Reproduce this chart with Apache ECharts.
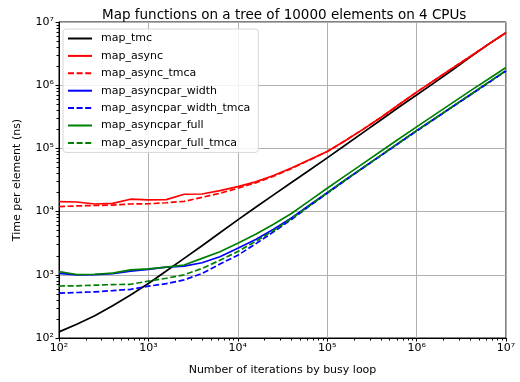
<!DOCTYPE html>
<html>
<head>
<meta charset="utf-8">
<script src="https://cdn.jsdelivr.net/npm/echarts@6.0.0/dist/echarts.min.js"></script>
<style>
  html, body { margin: 0; padding: 0; background: #fff; }
  #chart { width: 520px; height: 382px; }
</style>
</head>
<body>
<div id="chart"></div>
<script>
// busy loop iterations (x), 5 points per decade
const iterations = [100, 158, 251, 398, 631, 1000, 1585, 2512, 3981, 6310,
  10000, 15849, 25119, 39811, 63096, 100000, 158489, 251189, 398107, 630957,
  1000000, 1584893, 2511886, 3981072, 6309573, 10000000];

// time per element (ns)
const mapTmc = [125, 165, 225, 325, 480, 730, 1150, 1820, 2880, 4620,
  7400, 11700, 18400, 28800, 45200, 70800, 112000, 178000, 282000, 447000,
  700000, 1100000, 1740000, 2800000, 4400000, 6800000];
const mapAsync = [14400, 14200, 13200, 13500, 15700, 15300, 15500, 18800, 19000, 21500,
  24800, 29500, 37200, 49000, 66100, 89100, 132000, 200000, 309000, 490000,
  776000, 1200000, 1860000, 2850000, 4420000, 6760000];
const mapAsyncTmca = [12000, 12300, 12500, 12700, 13200, 13300, 13800, 14500, 16800, 19500,
  23400, 28500, 36300, 47900, 65300, 89100, 132000, 200000, 309000, 490000,
  776000, 1200000, 1860000, 2850000, 4420000, 6760000];
const mapAsyncparWidth = [1055, 1000, 1010, 1040, 1140, 1220, 1320, 1370, 1550, 1930,
  2630, 3630, 5250, 7940, 12600, 20000, 31600, 49500, 77600, 122000,
  191000, 295000, 457000, 708000, 1100000, 1700000];
const mapAsyncparWidthTmca = [513, 525, 537, 562, 589, 661, 724, 832, 1050, 1480,
  2040, 3090, 4790, 7500, 12200, 19500, 30900, 49000, 76700, 120000,
  188000, 292000, 452000, 700000, 1080000, 1680000];
const mapAsyncparFull = [1120, 1010, 1020, 1060, 1200, 1240, 1320, 1430, 1820, 2320,
  3160, 4370, 6310, 9330, 14800, 23400, 36700, 57500, 90200, 141000,
  219000, 339000, 525000, 813000, 1240000, 1900000];
const mapAsyncparFullTmca = [665, 670, 685, 700, 708, 794, 881, 1000, 1260, 1700,
  2340, 3390, 5010, 7760, 12300, 19700, 31300, 49500, 77600, 122000,
  191000, 295000, 457000, 708000, 1100000, 1700000];

const names = ['map_tmc', 'map_async', 'map_async_tmca', 'map_asyncpar_width',
  'map_asyncpar_width_tmca', 'map_asyncpar_full', 'map_asyncpar_full_tmca'];

// axis ticks
const decadeTicks = [100, 1000, 10000, 100000, 1000000, 10000000];
const superscripts = {2: '²', 3: '³', 4: '⁴', 5: '⁵', 6: '⁶', 7: '⁷'};
const minorTicks = [];
for (let d = 100; d < 10000000; d *= 10) {
  for (let m = 2; m <= 9; m++) minorTicks.push(d * m);
}

const font = 'DejaVu Sans';
const dash = [6, 2.6];

function line(name, values, color, dashed) {
  return {
    name: name,
    type: 'line',
    xAxisIndex: 0,
    yAxisIndex: 0,
    data: iterations.map((x, i) => [x, values[i]]),
    symbol: 'none',
    animation: false,
    lineStyle: { color: color, width: 1.7, type: dashed ? dash : 'solid' },
    itemStyle: { color: color }
  };
}

function tickLabel(v) {
  return '10' + superscripts[Math.round(Math.log10(v))];
}

function minorAxis() {
  return {
    type: 'log', logBase: 10, min: 100, max: 10000000, gridIndex: 1,
    axisLine: { show: false },
    axisTick: { show: true, inside: false, length: 2.5, customValues: minorTicks, lineStyle: { color: '#000', width: 1 } },
    axisLabel: { show: false },
    splitLine: { show: false }
  };
}

let myChart = echarts.init(document.getElementById('chart'));
const gridBox = { left: 59, right: 14, top: 22, bottom: 44 };
const option = {
  animation: false,
  textStyle: { fontFamily: font },
  title: {
    text: 'Map functions on a tree of 10000 elements on 4 CPUs',
    left: 97,
    top: 3,
    textStyle: { fontFamily: font, fontSize: 13.5, fontWeight: 'normal', color: '#000' }
  },
  legend: {
    orient: 'vertical',
    left: 63,
    top: 29,
    padding: [3, 8, 3, 4],
    itemWidth: 24,
    itemHeight: 12,
    itemGap: 4.4,
    itemStyle: { opacity: 0 },
    backgroundColor: 'rgba(255,255,255,0.85)',
    borderColor: '#d6d6d6',
    borderWidth: 1,
    borderRadius: 3,
    textStyle: { fontFamily: font, fontSize: 11, color: '#000', lineHeight: 13, padding: [0, 0, 0, 4] },
    data: names
  },
  grid: [
    Object.assign({ show: true, borderColor: '#000', borderWidth: 1, backgroundColor: 'transparent' }, gridBox),
    Object.assign({ show: false }, gridBox)
  ],
  xAxis: [
    {
      type: 'log', logBase: 10, min: 100, max: 10000000, gridIndex: 0,
      name: 'Number of iterations by busy loop', nameLocation: 'middle', nameGap: 27,
      nameTextStyle: { fontFamily: font, fontSize: 11, color: '#000' },
      axisLine: { show: true, lineStyle: { color: '#000', width: 1 } },
      axisTick: { show: true, inside: false, length: 3.5, customValues: decadeTicks, lineStyle: { color: '#000' } },
      axisLabel: { margin: 5, fontFamily: font, fontSize: 11, color: '#000', customValues: decadeTicks, formatter: tickLabel },
      splitLine: { show: true, lineStyle: { color: '#b0b0b0', width: 1 } }
    },
    minorAxis()
  ],
  yAxis: [
    {
      type: 'log', logBase: 10, min: 100, max: 10000000, gridIndex: 0,
      name: 'Time per element (ns)', nameLocation: 'middle', nameGap: 36,
      nameTextStyle: { fontFamily: font, fontSize: 11, color: '#000' },
      axisLine: { show: true, lineStyle: { color: '#000', width: 1 } },
      axisTick: { show: true, inside: false, length: 3.5, customValues: decadeTicks, lineStyle: { color: '#000' } },
      axisLabel: { margin: 5, fontFamily: font, fontSize: 11, color: '#000', customValues: decadeTicks, formatter: tickLabel },
      splitLine: { show: true, lineStyle: { color: '#b0b0b0', width: 1 } }
    },
    minorAxis()
  ],
  series: [
    line(names[0], mapTmc, '#000000', false),
    line(names[1], mapAsync, '#ff0000', false),
    line(names[2], mapAsyncTmca, '#ff0000', true),
    line(names[3], mapAsyncparWidth, '#0000ff', false),
    line(names[4], mapAsyncparWidthTmca, '#0000ff', true),
    line(names[5], mapAsyncparFull, '#008000', false),
    line(names[6], mapAsyncparFullTmca, '#008000', true)
  ]
};
myChart.setOption(option);
</script>
</body>
</html>
